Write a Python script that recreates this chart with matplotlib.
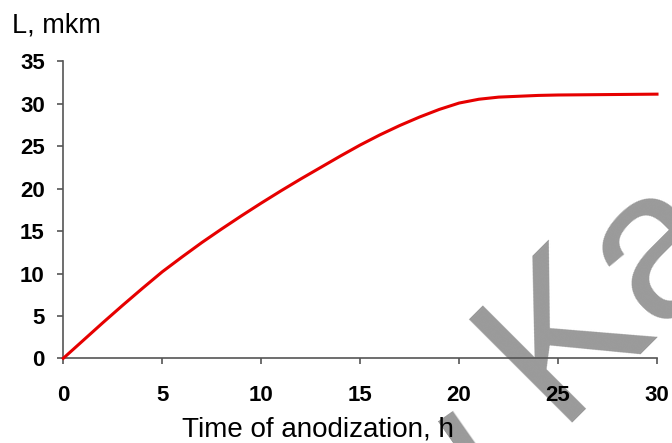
import numpy as np
import matplotlib.pyplot as plt

# thickness of anodic layer vs anodization time
time_h = [0, 1, 2, 3, 4, 5, 6, 7, 8, 9, 10, 11, 12, 13, 14, 15,
          16, 17, 18, 19, 20, 21, 22, 23, 24, 25, 30]
thickness = [0, 2.1, 4.2, 6.25, 8.25, 10.2, 11.95, 13.65, 15.25, 16.8, 18.3,
             19.75, 21.15, 22.5, 23.85, 25.15, 26.35, 27.45, 28.45, 29.35, 30.1,
             30.55, 30.8, 30.9, 31.0, 31.05, 31.15]

x_ticks = [0, 5, 10, 15, 20, 25, 30]
y_ticks = [0, 5, 10, 15, 20, 25, 30, 35]

plt.rcParams['font.family'] = ['Liberation Sans', 'DejaVu Sans']

fig = plt.figure(figsize=(6.72, 4.43), dpi=100)
ax = fig.add_axes([63.3 / 672, 1 - 358.3 / 443, (657 - 63.3) / 672, (358.3 - 61.5) / 443])

# watermark behind everything
wm = dict(color='#9a9a9a', rotation_mode='anchor', zorder=0)
fig.text(0.826, 0.045, 'Ka', rotation=45, ha='left', va='baseline', fontsize=152, **wm)
fig.text(443 / 672, 1 - 408 / 443, 'l', rotation=35, ha='center', va='top', fontsize=150, **wm)
ax.set_zorder(1)
ax.patch.set_alpha(0)

ax.plot(time_h, thickness, color='#e60000', lw=2.2, clip_on=False, zorder=3)

ax.set_xlim(0, 30)
ax.set_ylim(0, 35)
ax.set_xticks(x_ticks)
ax.set_yticks(y_ticks)
for s in ['top', 'right']:
    ax.spines[s].set_visible(False)
for s in ['left', 'bottom']:
    ax.spines[s].set_color('#555555')
    ax.spines[s].set_linewidth(1.2)
ax.tick_params(direction='out', length=4.3, width=1.2, color='#555555',
               labelsize=16)
ax.tick_params(axis='y', pad=9)
ax.tick_params(axis='x', pad=15)
for lbl in ax.get_xticklabels() + ax.get_yticklabels():
    lbl.set_fontweight('bold')

fig.text(12 / 672, 1 - 32 / 443, 'L, mkm', fontsize=19.5, ha='left', va='baseline')
fig.text(317.5 / 672, 1 - 437 / 443, 'Time of anodization, h', fontsize=20,
         ha='center', va='baseline')

fig.savefig('out.png', dpi=100)
